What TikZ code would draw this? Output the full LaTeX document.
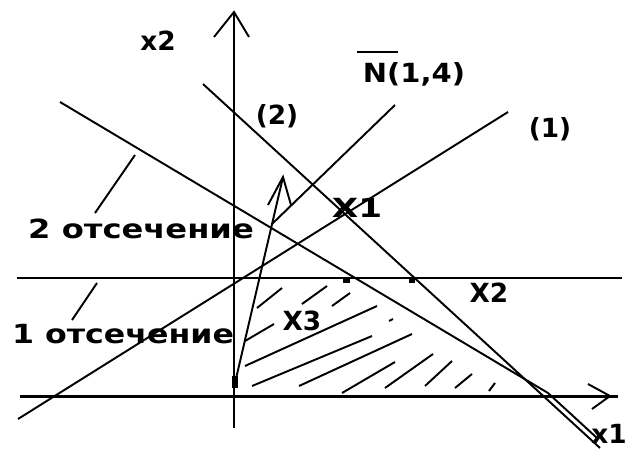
\documentclass[tikz,border=0pt]{standalone}
\usepackage{fontspec}
\setmainfont{DejaVu Sans}
\begin{document}
\begin{tikzpicture}[x=0.02cm,y=-0.02cm,
  thickln/.style={line width=1.7pt},
  thinln/.style={line width=1.1pt},
  hatchln/.style={line width=1.1pt},
  lbl/.style={inner sep=0pt, anchor=base, font=\fontsize{15}{15}\selectfont\bfseries}]
\useasboundingbox (0,0) rectangle (632,450);
% axes and horizontal lines
\coordinate (x2top) at (234,12);
\coordinate (x2bot) at (234,428);
\coordinate (x2bl) at (214,37);
\coordinate (x2br) at (249,37);
\coordinate (hA1) at (17,278);
\coordinate (hA2) at (622,278);
\coordinate (hB1) at (20,396);
\coordinate (hB2) at (618,396);
\coordinate (x1tip) at (610,396);
\coordinate (x1bu) at (588,384);
\coordinate (x1bd) at (592,409);
\draw[thickln] (x2bot) -- (x2top);
\draw[thinln] (x2bl) -- (x2top) -- (x2br);
\draw[thickln] (hA1) -- (hA2);
\draw[thickln] (hB1) -- (hB2);
\draw[thinln] (x1bu) -- (x1tip) -- (x1bd);
% lines
\coordinate (L1a) at (18,419);
\coordinate (L1b) at (508,112);
\coordinate (L2a) at (203,84);
\coordinate (L2b) at (600,448);
\coordinate (C2a) at (60,102);
\coordinate (C2m) at (548,393);
\coordinate (C2b) at (597,438);
\coordinate (Na) at (395,105);
\coordinate (Nb) at (272,224);
\coordinate (Aa) at (235,383);
\coordinate (Ab) at (283,177);
\coordinate (Abl) at (268,205);
\coordinate (Abr) at (291,205);
\coordinate (Ld2a) at (135,155);
\coordinate (Ld2b) at (95,213);
\coordinate (Ld1a) at (97,283);
\coordinate (Ld1b) at (72,320);
\draw[thinln] (L1a) -- (L1b);
\draw[thinln] (L2a) -- (L2b);
\draw[thinln] (C2a) -- (C2m) -- (C2b);
\draw[thinln] (Na) -- (Nb);
\draw[thinln] (Aa) -- (Ab);
\draw[thinln] (Abl) -- (Ab) -- (Abr);
\draw[thinln] (Ld2a) -- (Ld2b);
\draw[thinln] (Ld1a) -- (Ld1b);
% hatching
\foreach \xa/\ya/\xb/\yb in {257/308/282/288, 302/304/327/286, 332/306/350/293,
  245/341/274/324, 245/366/377/306, 252/386/372/336, 389/321/393/319,
  299/386/412/334, 342/393/395/362, 385/388/433/354,
  425/386/452/361, 455/388/472/374, 489/391/495/383}
  \draw[hatchln] (\xa,\ya) -- (\xb,\yb);
% point marks
\fill (343,277) rectangle (350,283);
\fill (409,277) rectangle (415,283);
\fill (232,376) rectangle (238,388);
% labels
\node[lbl] (lx2) at (158,50) {x2};
\node[lbl] (lN) at (414,82) {\scalebox{1.1}[1]{N(1,4)}};
\draw[line width=1.4pt] (357,52) -- (398,52);
\node[lbl] (l2) at (277,124) {(2)};
\node[lbl] (l1) at (550,137) {(1)};
\node[lbl] (lX1) at (357,217) {\scalebox{1.3}[1]{X1}};
\node[lbl] (lX2) at (489,302) {X2};
\node[lbl] (lX3) at (302,330) {X3};
\node[lbl, anchor=base east] (lx1) at (627,443) {x1};
\node[lbl] (lc2) at (141,238) {\scalebox{1.22}[1]{2 отсечение}};
\node[lbl] (lc1) at (123,343) {\scalebox{1.2}[1]{1 отсечение}};
\end{tikzpicture}
\end{document}
